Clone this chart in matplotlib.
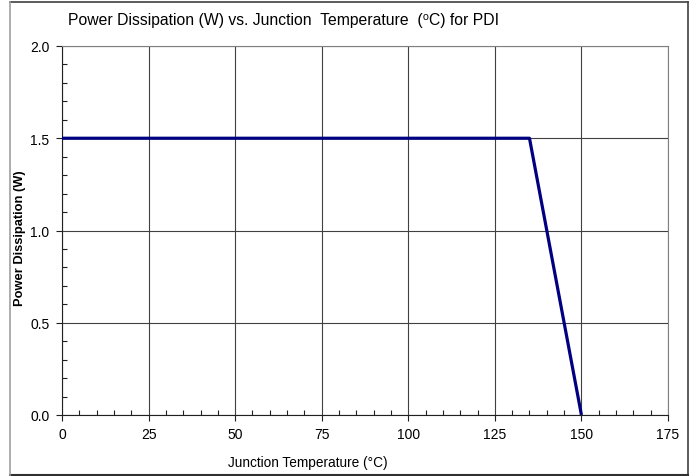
import matplotlib
matplotlib.use("Agg")
import matplotlib.pyplot as plt
from matplotlib.lines import Line2D
from matplotlib.ticker import MultipleLocator

temps = [0, 135, 150]
power = [1.5, 1.5, 0.0]
x_ticks = [0, 25, 50, 75, 100, 125, 150, 175]
y_ticks = [0.0, 0.5, 1.0, 1.5, 2.0]

plt.rcParams['font.family'] = ['Liberation Sans', 'DejaVu Sans']

W, H = 697, 477
fig = plt.figure(figsize=(W/100, H/100), dpi=100)
ax = fig.add_axes([62/W, 1-416/H, (668-62)/W, (416-47)/H])

ax.plot(temps, power, color='#000080', lw=2.3, solid_capstyle='butt', zorder=3)
ax.set_xlim(0, 175)
ax.set_ylim(0, 2.0)
ax.set_xticks(x_ticks)
ax.set_yticks(y_ticks)
ax.set_yticklabels([f"{v:.1f}" for v in y_ticks])
ax.xaxis.set_minor_locator(MultipleLocator(5))
ax.yaxis.set_minor_locator(MultipleLocator(0.1))
ax.grid(True, which='major', color='#404040', lw=0.8)
ax.tick_params(which='major', direction='out', length=4, width=0.8, labelsize=10, color='#202020')
ax.tick_params(axis='x', which='major', pad=5)
ax.tick_params(axis='y', which='major', pad=5)
ax.tick_params(which='minor', direction='in', length=3.5, width=0.8, color='#202020')
for s in ['top', 'right']:
    ax.spines[s].set_color('#808080')
    ax.spines[s].set_linewidth(0.8)
for s in ['left', 'bottom']:
    ax.spines[s].set_color('#202020')
    ax.spines[s].set_linewidth(0.8)

fig.text(20/W, 1-238/H, 'Power Dissipation (W)', fontsize=9.3, fontweight='bold',
         rotation=90, ha='center', va='center')
fig.text(308/W, 1-463/H, 'Junction Temperature (°C)', fontsize=9.8, ha='center', va='center')
fig.text(68/W, 1-20/H, 'Power Dissipation (W) vs. Junction  Temperature  (\u2070C) for PDI',
         fontsize=11.3, ha='left', va='center')

def fline(x0, y0, x1, y1, c, lw):
    fig.add_artist(Line2D([x0/W, x1/W], [1-y0/H, 1-y1/H], transform=fig.transFigure, color=c, lw=lw))

fline(10, 3, 688, 3, '#404040', 1.2)
fline(688, 3, 688, 476, '#404040', 1.2)
fline(10, 476, 688, 476, '#303030', 1.5)
fline(10, 3, 10, 476, '#a0a0a0', 1.2)
fig.savefig('out.png', dpi=100)
